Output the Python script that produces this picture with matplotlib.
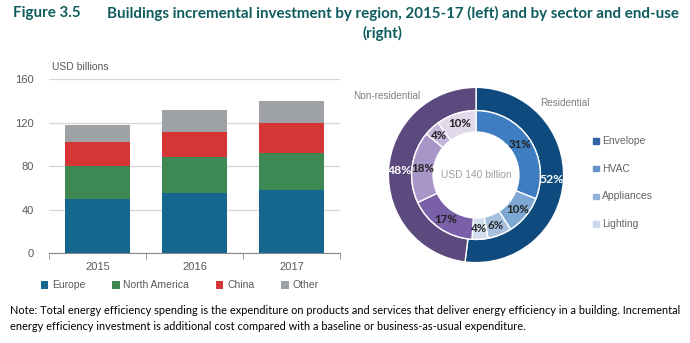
import matplotlib.pyplot as plt
import numpy as np

# bar chart data (USD billions)
years = ['2015', '2016', '2017']
europe = [50, 55.5, 58.5]
north_america = [30, 32.5, 33.5]
china = [22, 23, 27.5]
other = [15.5, 21, 20]
regions = ['Europe', 'North America', 'China', 'Other']
region_colors = ['#156790', '#3e8854', '#d63535', '#9ea2a6']

# donut data (shares, %)
sectors = ['Residential', 'Non-residential']
sector_share = [52, 48]
end_uses = ['Envelope', 'HVAC', 'Appliances', 'Lighting']
res_share = [31, 10, 6, 4]
nonres_share = [17, 18, 4, 10]
res_colors = ['#3e7dc0', '#7fa7d3', '#a7c0df', '#d2e0ef']
nonres_colors = ['#7960a8', '#a896c8', '#c4b7da', '#e0d9ea']
legend_colors = ['#2e64a4', '#6592c8', '#93b2da', '#c9d9ec']

W, H = 690, 343
fig = plt.figure(figsize=(W / 100, H / 100), dpi=100)
title_font = 'Lato'
axis_font = 'Liberation Sans'
grey = '#595959'
teal = '#0e5c5e'

# --- title ---
fig.text(13 / W, 1 - 13 / H, 'Figure 3.5', fontsize=10.9, fontweight='bold',
         color=teal, family=title_font, va='center', ha='left')
fig.text(107 / W, 1 - 13 / H,
         'Buildings incremental investment by region, 2015-17 (left) and by sector and end-use',
         fontsize=10.9, fontweight='bold', color=teal, family=title_font,
         va='center', ha='left')
fig.text(382 / W, 1 - 33 / H, '(right)', fontsize=10.9, fontweight='bold',
         color=teal, family=title_font, va='center', ha='center')

# --- stacked bars ---
ax = fig.add_axes([49 / W, 89.7 / H, 291 / W, 174.3 / H])
x = np.arange(len(years))
bottom = np.zeros(len(years))
for name, vals, col in zip(regions, [europe, north_america, china, other], region_colors):
    ax.bar(x, vals, 0.66, bottom=bottom, color=col, label=name, zorder=3)
    bottom += np.array(vals)

ax.set_xlim(-0.5, 2.5)
ax.set_ylim(0, 160)
ax.set_yticks([0, 40, 80, 120, 160])
ax.set_xticks(x)
ax.set_xticklabels(years)
ax.set_xticks([-0.5, 0.5, 1.5, 2.5], minor=True)
ax.tick_params(axis='x', which='major', length=0, pad=6, labelsize=8, labelcolor=grey)
ax.tick_params(axis='x', which='minor', length=4, color='#888888', direction='out')
ax.tick_params(axis='y', length=0, pad=11, labelsize=8, labelcolor=grey)
for lab in ax.get_xticklabels() + ax.get_yticklabels():
    lab.set_family(axis_font)
for s in ['top', 'right', 'left']:
    ax.spines[s].set_visible(False)
ax.spines['bottom'].set_color('#888888')
ax.grid(axis='y', color='#d6d6d6', linewidth=0.9, zorder=0)
ax.set_axisbelow(True)
fig.text(52 / W, 1 - 67 / H, 'USD billions', fontsize=7.5, color=grey,
         family=axis_font, va='center')

ax.legend(loc='center left', bbox_to_anchor=((41 - 49) / 291, -(285.5 - 253.3) / 174.3),
          ncol=4, frameon=False, handlelength=0.7, handleheight=0.7,
          handletextpad=0.35, columnspacing=2.6, borderpad=0, borderaxespad=0,
          prop={'family': axis_font, 'size': 7.5}, labelcolor=grey)

# --- donut ---
r_px = 88.5
cx, cy = 476, 175
pax = fig.add_axes([(cx - r_px) / W, (H - cy - r_px) / H, 2 * r_px / W, 2 * r_px / H])
pax.pie(sector_share, radius=1.0, colors=['#0e4a7e', '#5c4a7f'], startangle=90,
        counterclock=False, wedgeprops=dict(width=0.265, edgecolor='white', linewidth=1))
pax.pie(res_share + nonres_share, radius=0.735, colors=res_colors + nonres_colors,
        startangle=90, counterclock=False,
        wedgeprops=dict(width=0.245, edgecolor='white', linewidth=1))
pax.set_xlim(-1.01, 1.01)
pax.set_ylim(-1.01, 1.01)
pax.set_aspect('equal')

def place(values, radius, color, size):
    total = sum(values)
    start = 90.0
    for v in values:
        mid = start - 360.0 * v / total / 2
        start -= 360.0 * v / total
        a = np.deg2rad(mid)
        pax.text(radius * np.cos(a), radius * np.sin(a), f'{v}%', ha='center',
                 va='center', color=color, fontsize=size, fontweight='bold',
                 family=title_font)

place(sector_share, 0.87, 'white', 8.8)
place(res_share + nonres_share, 0.615, '#222222', 8.3)

pax.text(0, 0, 'USD 140 billion', ha='center', va='center', fontsize=7.4,
         color='#a0a0a0', family=axis_font)
fig.text(353 / W, 1 - 96 / H, 'Non-residential', fontsize=7.2, color='#7f7f7f',
         family=axis_font, va='center')
fig.text(540 / W, 1 - 103 / H, 'Residential', fontsize=7.2, color='#7f7f7f',
         family=axis_font, va='center')

# end-use legend
for i, (name, col) in enumerate(zip(end_uses, legend_colors)):
    yy = 141 + i * 27.7
    fig.patches.append(plt.Rectangle((593 / W, 1 - (yy + 2.7) / H), 5.5 / W, 5.5 / H,
                                     transform=fig.transFigure, color=col))
    fig.text(602 / W, 1 - yy / H, name, fontsize=7.5, color='#666666',
             family=axis_font, va='center')

# --- note ---
fig.text(10 / W, 1 - 311 / H,
         'Note: Total energy efficiency spending is the expenditure on products and services '
         'that deliver energy efficiency in a building. Incremental',
         fontsize=7.9, color='black', family=title_font, va='center')
fig.text(10 / W, 1 - 326 / H,
         'energy efficiency investment is additional cost compared with a baseline or '
         'business-as-usual expenditure.',
         fontsize=7.9, color='black', family=title_font, va='center')

fig.savefig('out.png', dpi=100)
